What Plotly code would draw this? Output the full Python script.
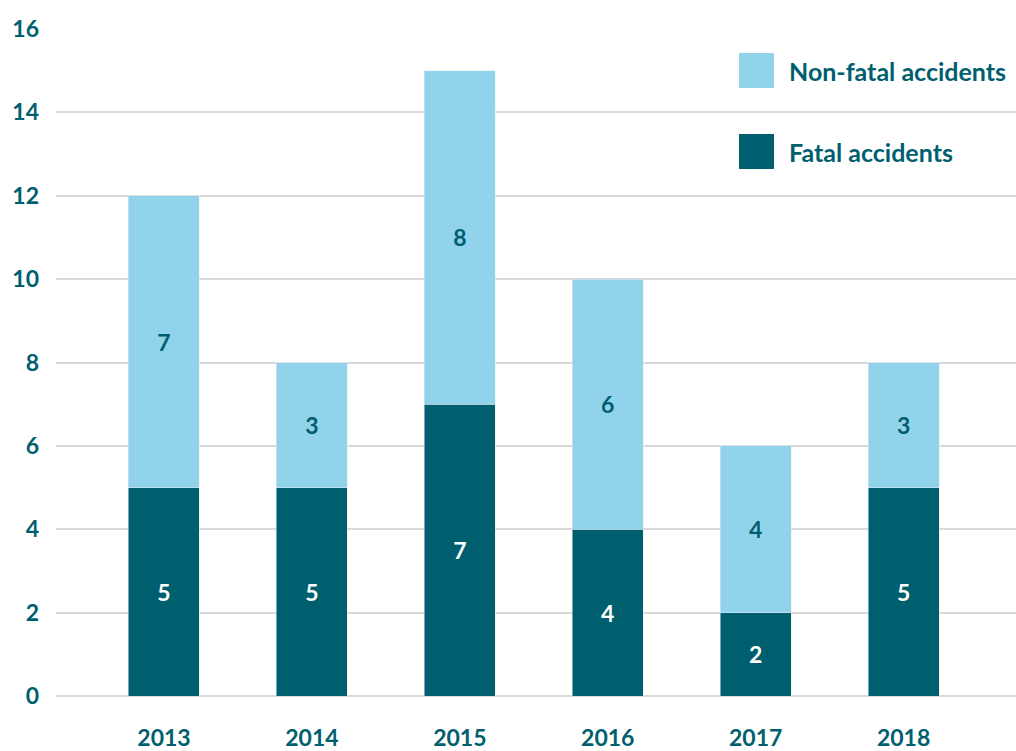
import plotly.graph_objects as go

years = ["2013", "2014", "2015", "2016", "2017", "2018"]
fatal = [5, 5, 7, 4, 2, 5]
non_fatal = [7, 3, 8, 6, 4, 3]
y_ticks = [0, 2, 4, 6, 8, 10, 12, 14, 16]

DARK = "#005F6E"
LIGHT = "#92D3EC"
TEXT = "#005F6E"
FONT = "Lato"

fig = go.Figure()
fig.add_trace(go.Bar(
    x=years, y=fatal, name="Fatal accidents", marker_color=DARK,
    text=fatal, textposition="inside", insidetextanchor="middle",
    textfont=dict(color="white", size=23, family=FONT),
    width=0.48,
))
fig.add_trace(go.Bar(
    x=years, y=non_fatal, name="Non-fatal accidents", marker_color=LIGHT,
    text=non_fatal, textposition="inside", insidetextanchor="middle",
    textfont=dict(color=TEXT, size=23, family=FONT),
    width=0.48,
))

# legend drawn as swatches + labels in paper coordinates
legend_items = [("Non-fatal accidents", LIGHT, 70.5), ("Fatal accidents", DARK, 151.5)]
W, H = 1016, 751
for label, color, yc in legend_items:
    fig.add_shape(type="rect", xref="paper", yref="paper",
                  x0=(739 - 56) / (W - 56), x1=(774 - 56) / (W - 56),
                  y0=(696 - (yc + 17.5)) / (696 - 29), y1=(696 - (yc - 17.5)) / (696 - 29),
                  fillcolor=color, line_width=0, layer="above")
    fig.add_annotation(xref="paper", yref="paper",
                       x=(787 - 56) / (W - 56), y=(696 - yc) / (696 - 29),
                       text=f"<b>{label}</b>", showarrow=False,
                       xanchor="left", yanchor="middle",
                       font=dict(color=TEXT, size=25, family=FONT))

fig.update_layout(
    barmode="stack",
    width=W, height=H,
    margin=dict(l=56, r=0, t=29, b=55),
    paper_bgcolor="white", plot_bgcolor="white",
    showlegend=False,
    font=dict(family=FONT, color=TEXT, size=23),
    uniformtext=dict(minsize=10, mode="show"),
)
fig.update_xaxes(
    type="category", range=[-0.73, 5.76],
    showgrid=False, showline=False, ticks="",
    tickfont=dict(size=23, family=FONT, color=TEXT, weight="bold"),
    ticklabelstandoff=26, automargin=False,
)
fig.update_yaxes(
    range=[0, 16], tickvals=y_ticks,
    showgrid=True, gridcolor="#D9D9D9", gridwidth=1.5,
    zeroline=True, zerolinecolor="#D9D9D9", zerolinewidth=1.5,
    showline=False, ticks="",
    tickfont=dict(size=23, family=FONT, color=TEXT, weight="bold"),
    ticklabelstandoff=16, automargin=False,
)
fig.update_traces(textfont_weight="bold")

fig.write_html("out.html")
